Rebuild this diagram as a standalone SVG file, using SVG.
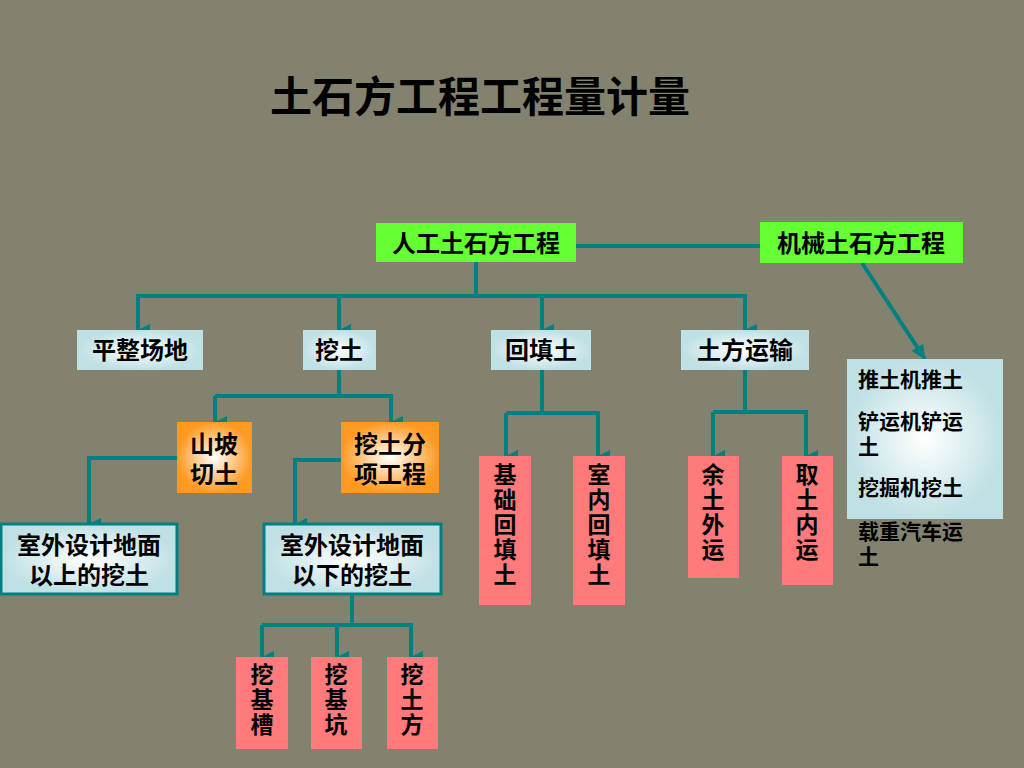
<svg xmlns="http://www.w3.org/2000/svg" width="1024" height="768" viewBox="0 0 1024 768">
<defs>
<radialGradient id="gb"><stop offset="0" stop-color="#ffffff"/><stop offset="1" stop-color="#bfe0e4"/></radialGradient>
<radialGradient id="go"><stop offset="0" stop-color="#ffffff"/><stop offset="1" stop-color="#ff9922"/></radialGradient>
<marker id="ar" viewBox="0 0 10 10" refX="5" refY="10" markerWidth="3" markerHeight="3" orient="auto-start-reverse" markerUnits="strokeWidth"><path d="M0,0 L10,0 L5,10 z" fill="#008080"/></marker>
<marker id="ad" viewBox="0 0 10 10" refX="10" refY="5" markerWidth="3.5" markerHeight="3.5" orient="auto" markerUnits="strokeWidth"><path d="M0,0 L10,5 L0,10 z" fill="#008080"/></marker>
</defs>
<style>
text{font-family:"Noto Sans CJK SC","Liberation Sans",sans-serif;font-size:24px;fill:#000;font-weight:bold}
.c{text-anchor:middle}
.v{writing-mode:tb;font-size:23px;letter-spacing:2px}
.g{fill:#66ff33}
.b{fill:url(#gb)}
.o{fill:url(#go)}
.p{fill:#ff7b7b}
.bb{fill:url(#gb);stroke:#008080;stroke-width:3}
.l{fill:none;stroke:#008080;stroke-width:4}
.r{font-size:21px}
</style>
<rect width="1024" height="768" fill="#82826f"/>
<text x="480" y="112" class="c" style="font-size:42px">土石方工程工程量计量</text>
<g id="connectors">
<path class="l" d="M576,246H760"/>
<path class="l" d="M476,262V296H138V328"/>
<path class="l" marker-end="url(#ar)" d="M138,296V330"/>
<path class="l" marker-end="url(#ar)" d="M339,296V330"/>
<path class="l" marker-end="url(#ar)" d="M476,296H542V330"/>
<path class="l" marker-end="url(#ar)" d="M542,296H745V330"/>
<path class="l" marker-end="url(#ad)" d="M862,263L925,359"/>
<path class="l" d="M339,370V396H215"/>
<path class="l" marker-end="url(#ar)" d="M215,396V422"/>
<path class="l" marker-end="url(#ar)" d="M339,396H391V422"/>
<path class="l" marker-end="url(#ar)" d="M177,458H89V524"/>
<path class="l" marker-end="url(#ar)" d="M341,460H295V524"/>
<path class="l" d="M352,595V625H262"/>
<path class="l" marker-end="url(#ar)" d="M262,625V657"/>
<path class="l" marker-end="url(#ar)" d="M337,625V657"/>
<path class="l" marker-end="url(#ar)" d="M337,625H411V657"/>
<path class="l" d="M542,370V413H506"/>
<path class="l" marker-end="url(#ar)" d="M506,413V456"/>
<path class="l" marker-end="url(#ar)" d="M542,413H598V456"/>
<path class="l" d="M745,370V412H713"/>
<path class="l" marker-end="url(#ar)" d="M713,412V456"/>
<path class="l" marker-end="url(#ar)" d="M745,412H806V456"/>
</g>
<g id="n1"><rect class="g" x="376" y="223" width="200" height="39"/><text x="476" y="252" class="c">人工土石方工程</text></g>
<g id="n2"><rect class="g" x="760" y="222" width="203" height="41"/><text x="861" y="252" class="c">机械土石方工程</text></g>
<g id="n3"><rect class="b" x="77" y="330" width="126" height="40"/><text x="140" y="359" class="c">平整场地</text></g>
<g id="n4"><rect class="b" x="303" y="330" width="73" height="40"/><text x="339" y="359" class="c">挖土</text></g>
<g id="n5"><rect class="b" x="491" y="330" width="100" height="40"/><text x="541" y="359" class="c">回填土</text></g>
<g id="n6"><rect class="b" x="681" y="330" width="128" height="40"/><text x="745" y="359" class="c">土方运输</text></g>
<g id="n7"><rect class="b" x="847" y="359" width="156" height="160"/>
<text x="858" y="387" class="r">推土机推土</text><text x="858" y="429" class="r">铲运机铲运</text><text x="858" y="454" class="r">土</text><text x="858" y="495" class="r">挖掘机挖土</text><text x="858" y="539" class="r">载重汽车运</text><text x="858" y="564" class="r">土</text></g>
<g id="n8"><rect class="o" x="177" y="422" width="75" height="71"/><text x="214" y="453" class="c">山坡</text><text x="214" y="483" class="c">切土</text></g>
<g id="n9"><rect class="o" x="341" y="422" width="98" height="71"/><text x="390" y="453" class="c">挖土分</text><text x="390" y="483" class="c">项工程</text></g>
<g id="n10"><rect class="bb" x="1" y="524" width="176" height="70"/><text x="89" y="554" class="c">室外设计地面</text><text x="89" y="584" class="c">以上的挖土</text></g>
<g id="n11"><rect class="bb" x="264" y="524" width="177" height="70"/><text x="352" y="554" class="c">室外设计地面</text><text x="352" y="584" class="c">以下的挖土</text></g>
<g id="n12"><rect class="p" x="479" y="456" width="52" height="149"/><text x="505" y="463" class="v">基础回填土</text></g>
<g id="n13"><rect class="p" x="573" y="456" width="52" height="149"/><text x="599" y="463" class="v">室内回填土</text></g>
<g id="n14"><rect class="p" x="688" y="456" width="51" height="122"/><text x="713" y="463" class="v">余土外运</text></g>
<g id="n15"><rect class="p" x="782" y="456" width="51" height="129"/><text x="807" y="463" class="v">取土内运</text></g>
<g id="n16"><rect class="p" x="236" y="657" width="52" height="92"/><text x="262" y="663" class="v">挖基槽</text></g>
<g id="n17"><rect class="p" x="311" y="657" width="51" height="92"/><text x="336" y="663" class="v">挖基坑</text></g>
<g id="n18"><rect class="p" x="387" y="657" width="51" height="92"/><text x="412" y="663" class="v">挖土方</text></g>
</svg>
